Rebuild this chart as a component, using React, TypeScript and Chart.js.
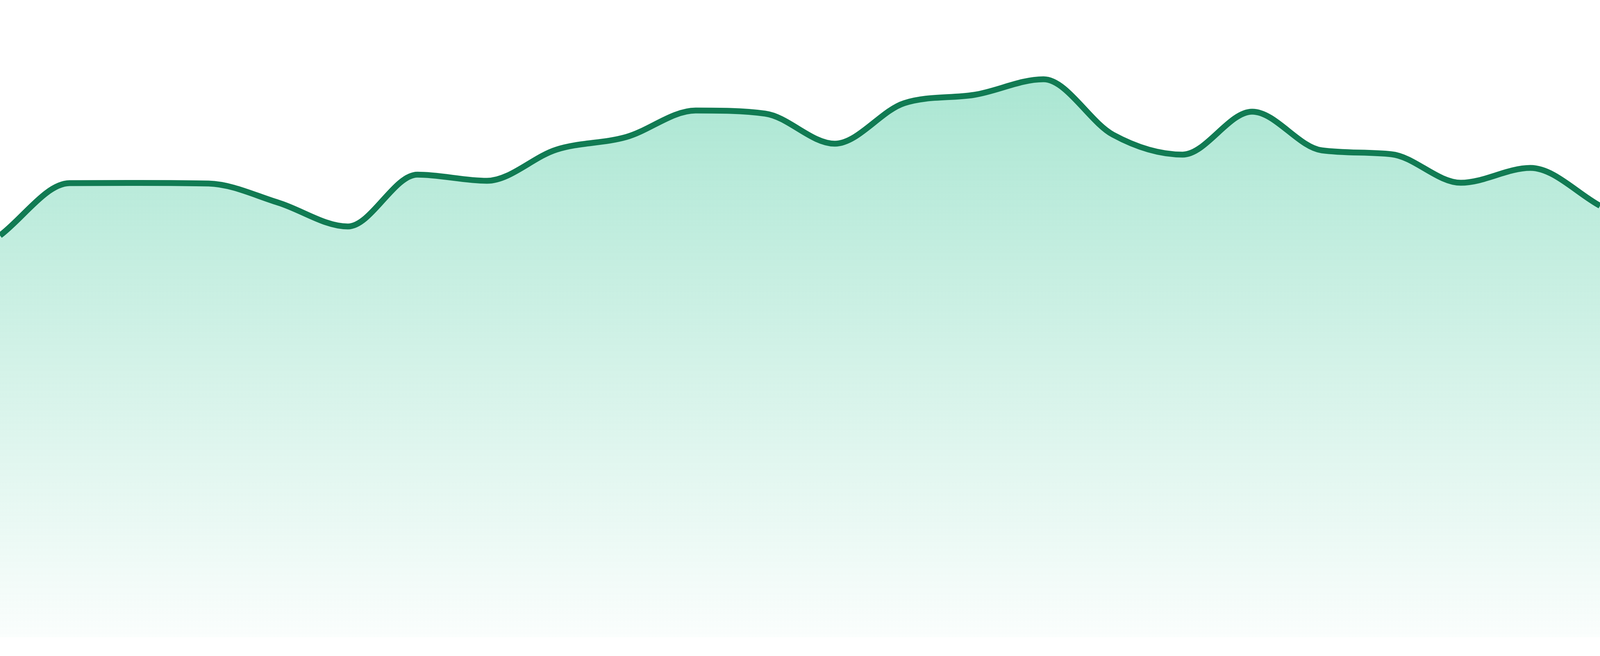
import React, { useEffect, useRef } from "react";
import { Chart, registerables } from "chart.js";

Chart.register(...registerables);

const labels: string[] = [
  "00:00", "01:00", "02:00", "03:00", "04:00", "05:00", "06:00", "07:00",
  "08:00", "09:00", "10:00", "11:00", "12:00", "13:00", "14:00", "15:00",
  "16:00", "17:00", "18:00", "19:00", "20:00", "21:00", "22:00", "23:00",
];

const values: number[] = [
  63.05, 71.26, 71.3, 71.2, 68.2, 64.46, 72.6, 71.63,
  76.53, 78.49, 82.66, 82.17, 77.45, 83.82, 85.11, 87.56,
  78.86, 75.74, 82.48, 76.41, 75.8, 71.32, 73.65, 67.71,
];

const yMin = 0;
const yMax = 100;

export default function App() {
  const ref = useRef<HTMLCanvasElement | null>(null);

  useEffect(() => {
    document.body.style.margin = "0";
    document.body.style.overflow = "hidden";
    const canvas = ref.current;
    if (!canvas) return;
    const unit = window.innerHeight / 1680;
    const chart = new Chart(canvas, {
      type: "line",
      data: {
        labels,
        datasets: [
          {
            data: values,
            borderColor: "#117b53",
            borderWidth: 15 * unit,
            fill: "start",
            cubicInterpolationMode: "monotone",
            pointRadius: 0,
            pointHoverRadius: 0,
            backgroundColor: (ctx: any) => {
              const { chart } = ctx;
              const area = chart.chartArea;
              if (!area) return "rgba(16,185,129,0.2)";
              const g = chart.ctx.createLinearGradient(0, area.top, 0, area.bottom);
              g.addColorStop(0, "rgba(16,185,129,0.40)");
              g.addColorStop(1, "rgba(16,185,129,0.02)");
              return g;
            },
          },
        ],
      },
      options: {
        animation: false,
        responsive: true,
        maintainAspectRatio: false,
        layout: { padding: { left: 0, right: 0, top: 0, bottom: 48 * unit } },
        plugins: { legend: { display: false }, tooltip: { enabled: false } },
        scales: {
          x: { display: false, offset: false },
          y: { display: false, min: yMin, max: yMax },
        },
      },
    });
    return () => chart.destroy();
  }, []);

  return (
    <div style={{ position: "fixed", left: 0, top: 0, width: "100vw", height: "100vh", background: "#ffffff" }}>
      <canvas ref={ref} />
    </div>
  );
}
